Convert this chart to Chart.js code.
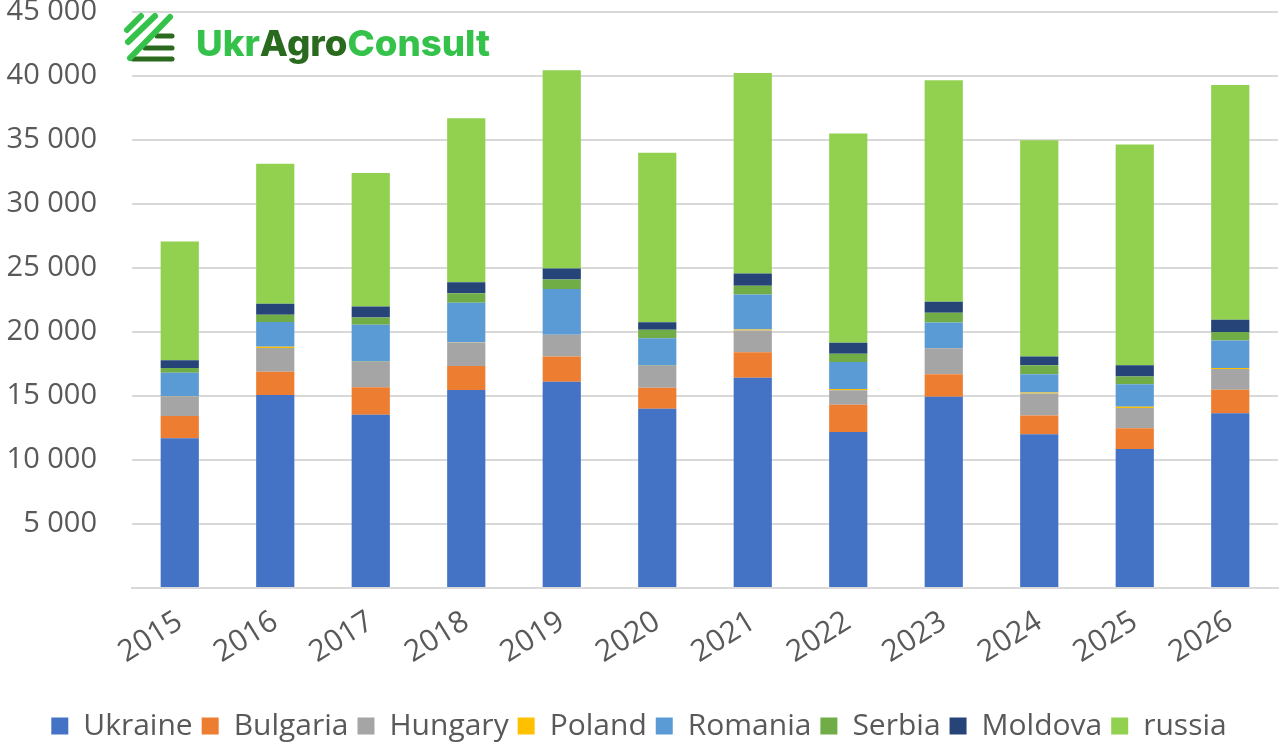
<!DOCTYPE html>
<html>
<head>
<meta charset="utf-8">
<script src="https://cdn.jsdelivr.net/npm/chart.js@4.4.1/dist/chart.umd.min.js"></script>
<style>
  html, body { margin: 0; padding: 0; background: #fff; }
  #wrap { width: 1281px; height: 743px; position: relative; }
</style>
</head>
<body>
<div id="wrap"><canvas id="chart" width="1281" height="743"></canvas></div>
<script>
// Jahre (x-Achse)
const YEARS = ['2015','2016','2017','2018','2019','2020','2021','2022','2023','2024','2025','2026'];

// Werte pro Land (geschätzt)
const UKRAINE  = [11700, 15080, 13540, 15460, 16110, 14010, 16430, 12180, 14950, 12010, 10860, 13650];
const BULGARIA = [ 1740,  1820,  2140,  1890,  1970,  1640,  1990,  2130,  1750,  1460,  1620,  1830];
const HUNGARY  = [ 1540,  1850,  1980,  1830,  1700,  1700,  1700,  1140,  2020,  1720,  1590,  1620];
const POLAND   = [   20,   100,    10,    10,    10,    10,    80,   100,    10,    80,    80,    80];
const ROMANIA  = [ 1820,  1930,  2890,  3100,  3560,  2160,  2720,  2100,  2020,  1430,  1770,  2160];
const SERBIA   = [  370,   570,   570,   730,   750,   650,   700,   650,   750,   700,   600,   650];
const MOLDOVA  = [  600,   860,   860,   860,   860,   590,   940,   860,   860,   680,   890,   970];
const RUSSIA   = [ 9270, 10940, 10440, 12820, 15490, 13250, 15680, 16350, 17300, 16890, 17230, 18340];

const SERIES = [
  { label: 'Ukraine',  data: UKRAINE,  color: '#4472c4' },
  { label: 'Bulgaria', data: BULGARIA, color: '#ed7d31' },
  { label: 'Hungary',  data: HUNGARY,  color: '#a5a5a5' },
  { label: 'Poland',   data: POLAND,   color: '#ffc000' },
  { label: 'Romania',  data: ROMANIA,  color: '#5b9bd5' },
  { label: 'Serbia',   data: SERBIA,   color: '#70ad47' },
  { label: 'Moldova',  data: MOLDOVA,  color: '#264478' },
  { label: 'russia',   data: RUSSIA,   color: '#92d050' },
];

const FONT = '"Open Sans", "Noto Sans", sans-serif';
const TXT = '#595959';

// Tausender mit Leerzeichen: 45 000
const fmt = v => v === 0 ? '' : String(v).replace(/\B(?=(\d{3})+(?!\d))/g, ' ');

// Logo oben links (UkrAgroConsult)
const logoPlugin = {
  id: 'logo',
  afterDraw(chart) {
    const c = chart.ctx;
    c.save();
    const light = '#35c24b', dark = '#2a6a1e';
    c.lineCap = 'round';
    // horizontale Balken (dunkel)
    c.strokeStyle = dark; c.lineWidth = 5;
    [[157, 36], [145, 48], [133, 59]].forEach(([x0, y]) => {
      c.beginPath(); c.moveTo(x0, y); c.lineTo(172, y); c.stroke();
    });
    // diagonale Streifen (hell)
    c.strokeStyle = light; c.lineWidth = 6;
    c.beginPath(); c.moveTo(127, 30); c.lineTo(141, 16); c.stroke();
    c.beginPath(); c.moveTo(128, 42); c.lineTo(155, 16); c.stroke();
    c.beginPath(); c.moveTo(130, 58); c.lineTo(170, 17); c.stroke();
    // Schriftzug
    c.font = '800 36px Inter, "Noto Sans", sans-serif';
    c.textBaseline = 'alphabetic';
    const parts = [['Ukr', light], ['Agro', dark], ['Consult', light]];
    const total = parts.reduce((s, p) => s + c.measureText(p[0]).width, 0);
    const sx = 294 / total;
    let x = 196;
    parts.forEach(([t, col]) => {
      c.save();
      c.translate(x, 56);
      c.scale(sx, 1);
      c.fillStyle = col;
      c.fillText(t, 0, 0);
      c.restore();
      x += c.measureText(t).width * sx;
    });
    c.restore();
  }
};

new Chart(document.getElementById('chart'), {
  type: 'bar',
  data: {
    labels: YEARS,
    datasets: SERIES.map(s => ({
      label: s.label,
      data: s.data,
      backgroundColor: s.color,
      borderWidth: 0,
      barPercentage: 0.4,
      categoryPercentage: 1.0,
    }))
  },
  options: {
    responsive: false,
    animation: false,
    layout: { padding: { top: 0, right: 3, left: 0, bottom: -8 } },
    scales: {
      x: {
        stacked: true,
        grid: { display: false, drawTicks: false },
        border: { color: '#d9d9d9', width: 2 },
        ticks: { color: TXT, font: { family: FONT, size: 30 }, minRotation: 32, maxRotation: 32, padding: 16 },
        afterFit: s => { s.height = 114; }
      },
      y: {
        stacked: true,
        min: 0, max: 45000,
        grid: { color: '#d9d9d9', lineWidth: 2, drawTicks: true, tickLength: 31, tickColor: 'rgba(0,0,0,0)' },
        border: { display: false },
        ticks: { stepSize: 5000, color: TXT, font: { family: FONT, size: 29, lineHeight: 0.55 }, padding: 4, callback: v => fmt(v) },
        afterFit: s => { s.width = 132; }
      }
    },
    plugins: {
      legend: {
        position: 'bottom',
        labels: { color: TXT, font: { family: FONT, size: 30 }, boxWidth: 17, boxHeight: 17, padding: 9 }
      },
      tooltip: { enabled: false }
    }
  },
  plugins: [logoPlugin]
});
</script>
</body>
</html>
